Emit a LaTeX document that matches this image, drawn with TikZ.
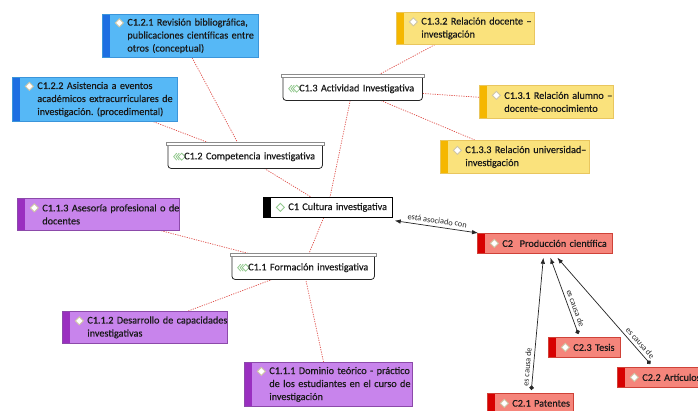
\documentclass[tikz,border=0pt]{standalone}
\usepackage{fontspec}
\setmainfont{Carlito}
\newfontfamily\boxfont{Carlito}[FakeBold=0.35]
\frenchspacing
\usetikzlibrary{arrows.meta}
\pgfdeclarelayer{bg}
\pgfsetlayers{bg,main}
\definecolor{blueF}{HTML}{56B8F6}
\definecolor{blueS}{HTML}{1E6FE2}
\definecolor{blueB}{HTML}{3B95DA}
\definecolor{yelF}{HTML}{FAE27C}
\definecolor{yelS}{HTML}{F5B700}
\definecolor{yelB}{HTML}{E9C65E}
\definecolor{purF}{HTML}{C884EC}
\definecolor{purS}{HTML}{9A2FC0}
\definecolor{purB}{HTML}{8C4AAA}
\definecolor{redF}{HTML}{F5857B}
\definecolor{redS}{HTML}{D70000}
\definecolor{redB}{HTML}{CF4238}
\definecolor{linkR}{HTML}{E0504A}
\definecolor{iconG}{HTML}{93C98F}
\definecolor{iconB}{HTML}{CFC6A6}
\tikzset{
  basebox/.style={anchor=north west, inner xsep=4pt, inner ysep=1pt, line width=0.7pt,
    align=left, text=black!90, font=\boxfont\fontsize{10.2}{13}\selectfont},
  cbox/.style n args={5}{basebox, fill=#1, draw=#3,
    execute at begin node={\leftskip=21pt\relax\frenchspacing},
    path picture={
      \fill[#2] (path picture bounding box.north west) rectangle ([xshift=7.5pt]path picture bounding box.south west);
      \filldraw[fill=white, draw=#4, line width=0.9pt] ([xshift=17pt,yshift=#5]path picture bounding box.west)
        +(-4pt,0pt) -- +(0pt,4pt) -- +(4pt,0pt) -- +(0pt,-4pt) -- cycle;
    }},
  bluebox/.style={cbox={blueF}{blueS}{blueB}{iconB}{#1}},
  yelbox/.style={cbox={yelF}{yelS}{yelB}{iconB}{#1}},
  purbox/.style={cbox={purF}{purS}{purB}{iconB}{#1}},
  redbox/.style={cbox={redF}{redS}{redB}{iconB}{#1}},
  blackbox/.style={cbox={white}{black}{black}{iconG}{#1}},
  groupbox/.style={anchor=north west, inner xsep=4pt, inner ysep=1pt, fill=white,
    align=left, text=black!90, font=\boxfont\fontsize{10.2}{13}\selectfont, minimum height=23pt,
    execute at begin node={\leftskip=12pt\relax},
    path picture={
      \draw[iconG, line width=0.8pt] ([xshift=8.5pt]path picture bounding box.west) +(0pt,3.5pt) -- +(-3pt,0pt) -- +(0pt,-3.5pt);
      \draw[iconG, line width=0.8pt] ([xshift=11pt]path picture bounding box.west) +(0pt,3.5pt) -- +(-3pt,0pt) -- +(0pt,-3.5pt);
      \draw[iconG, line width=0.8pt] ([xshift=13.5pt]path picture bounding box.west) +(-3.5pt,0pt) -- +(0pt,3.5pt) -- +(3.5pt,0pt) -- +(0pt,-3.5pt) -- cycle;
    }},
  gframe/.style={draw=black!85, line width=0.8pt, rounded corners=3pt},
  gbar/.style={draw=black!45, fill=white, line width=0.6pt},
  link/.style={draw=linkR, line width=0.7pt, dash pattern=on 1.2pt off 1.2pt},
  rel/.style={draw=black!85, line width=0.7pt},
  lab/.style={font=\fontsize{8.3}{9}\selectfont, text=black!85, inner sep=3pt},
  tipA/.tip={Latex[length=6pt,width=4.5pt]},
  tipD/.tip={Circle[length=4.5pt]}
}
\begin{document}
\begin{tikzpicture}[x=1pt,y=-1pt]
\useasboundingbox (0,0) rectangle (698,410);

% blue
\node[bluebox=13pt, text width=148pt, minimum height=43pt] (c121) at (102,14)
  {\mbox{C1.2.1 Revisión bibliográfica,}\\\mbox{publicaciones científicas entre}\\\mbox{otros (conceptual)}};
\node[bluebox=13pt, text width=157pt, minimum height=44pt] (c122) at (12,77)
  {\mbox{C1.2.2 Asistencia a eventos}\\\mbox{académicos extracurriculares de}\\\mbox{investigación.\ (procedimental)}};
% yellow
\node[yelbox=6.5pt, text width=130pt, minimum height=32pt] (c132) at (396,12)
  {\mbox{C1.3.2 Relación docente –}\\\mbox{investigación}};
\node[yelbox=6.5pt, text width=126pt, minimum height=33pt] (c131) at (479,85)
  {\mbox{C1.3.1 Relación alumno –}\\\mbox{docente-conocimiento}};
\node[yelbox=6.5pt, text width=141pt, minimum height=33pt] (c133) at (440,140)
  {\mbox{C1.3.3 Relación universidad–}\\\mbox{investigación}};
% purple
\node[purbox=6.5pt, text width=154pt, minimum height=32pt] (c113) at (17,198)
  {\mbox{C1.1.3 Asesoría profesional o de}\\\mbox{docentes}};
\node[purbox=6.5pt, text width=157pt, minimum height=32pt] (c112) at (62,311)
  {\mbox{C1.1.2 Desarrollo de capacidades}\\\mbox{investigativas}};
\node[purbox=13pt, text width=160pt, minimum height=44pt] (c111) at (244,362)
  {\mbox{C1.1.1 Dominio teórico - práctico}\\\mbox{de los estudiantes en el curso de}\\\mbox{investigación}};
% red
\node[redbox=0pt, text width=127pt, minimum height=20pt] (c2) at (477,233)
  {\mbox{C2~ Producción científica}};
\node[redbox=0pt, text width=64pt, minimum height=20pt] (c23) at (548,337) {\mbox{C2.3 Tesis}};
\node[redbox=0pt, text width=87pt, minimum height=20pt] (c22) at (617,367) {\mbox{C2.2 Artículos}};
\node[redbox=0pt, text width=78pt, minimum height=20pt] (c21) at (487,393) {\mbox{C2.1 Patentes}};
% black
\node[blackbox=0pt, text width=121pt, minimum height=20pt] (c1) at (263,197) {\mbox{C1 Cultura investigativa}};
% groups
\node[groupbox, text width=131pt] (c13) at (283,77) {\mbox{C1.3 Actividad Investigativa}};
\node[groupbox, text width=146pt] (c12) at (168,145) {\mbox{C1.2 Competencia investigativa}};
\node[groupbox, text width=134pt] (c11) at (232,256) {\mbox{C1.1 Formación investigativa}};

\foreach \g in {c13,c12,c11}{
  \draw[gframe] (\g.north west) -- (\g.south west) -- (\g.south east) -- (\g.north east);
  \draw[gbar] ([shift={(-2pt,3pt)}]\g.north west) rectangle ([xshift=2pt]\g.north east);
}

\begin{pgfonlayer}{bg}
\fill[white] (0,0) rectangle (698,410);
\draw[link] (c121) -- (c12);
\draw[link] (c122) -- (c12);
\draw[link] (c12) -- (c1);
\draw[link] (c13) -- (c1);
\draw[link] (c132) -- (c13);
\draw[link] (c131) -- (c13);
\draw[link] (c133) -- (c13);
\draw[link] (c1) -- (c11);
\draw[link] (c113) -- (c11);
\draw[link] (c112) -- (c11);
\draw[link] (c111) -- (c11);
\end{pgfonlayer}

\draw[rel, tipA-tipA] ([shift={(2pt,-3pt)}]c1.south east) -- ([xshift=1pt]c2.north west)
  node[lab, pos=0.5, rotate=-8, anchor=south] {está asociado con};
\draw[rel, tipD-tipA] ([shift={(1pt,3pt)}]c21.north) -- ([shift={(-1.5pt,-4pt)}]c2.south)
  node[lab, pos=0.17, rotate=85, anchor=south] {es causa de};
\draw[rel, tipD-tipA] ([shift={(-6pt,3pt)}]c23.north) -- ([shift={(5.5pt,-4pt)}]c2.south)
  node[lab, pos=0.31, rotate=-70, anchor=south] {es causa de};
\draw[rel, tipD-tipA] ([shift={(-14.5pt,3pt)}]c22.north) -- ([shift={(12.5pt,-4pt)}]c2.south)
  node[lab, pos=0.16, rotate=-49, anchor=south] {es causa de};
\end{tikzpicture}
\end{document}
